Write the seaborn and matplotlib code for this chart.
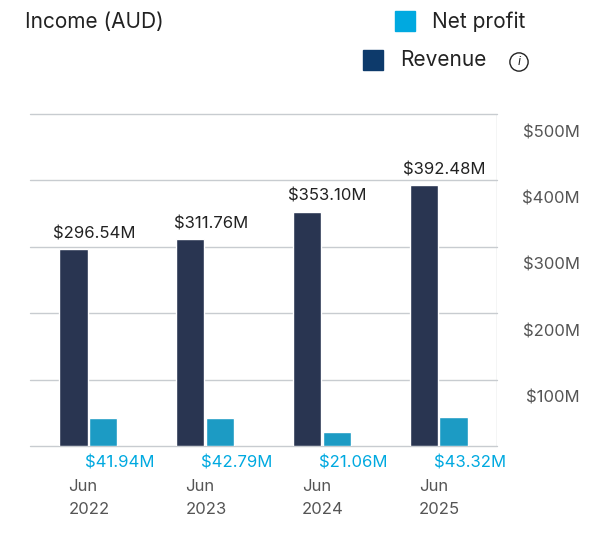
import matplotlib
matplotlib.use("Agg")
import matplotlib.pyplot as plt
import seaborn as sns
import pandas as pd
from matplotlib.patches import Rectangle

years = ["2022", "2023", "2024", "2025"]
revenue = [296.54, 311.76, 353.10, 392.48]
net_profit = [41.94, 42.79, 21.06, 43.32]
yticks = [100, 200, 300, 400, 500]

sns.set_theme(style="white")
plt.rcParams['font.family'] = ['Inter', 'DejaVu Sans']

df = pd.DataFrame({
    "year": years * 2,
    "value": revenue + net_profit,
    "series": ["Revenue"] * 4 + ["Net profit"] * 4,
})

fig = plt.figure(figsize=(5.94, 5.33), dpi=100)
ax = fig.add_axes([30/594, 1-446/533, 467/594, 332/533])
sns.barplot(data=df, x="year", y="value", hue="series",
            palette={"Revenue": "#233357", "Net profit": "#00A9E0"},
            width=0.51, gap=0.05, legend=False, ax=ax)
ax.set_xlim(-0.5, 3.5)
ax.set_ylim(0, 500)
for s in ax.spines.values():
    s.set_visible(False)
ax.set_xticks([]); ax.set_yticks([])
ax.set_xlabel(""); ax.set_ylabel("")
for t in [0] + yticks:
    ax.axhline(t, color="#c8ccd0", lw=1, zorder=0, clip_on=False)
ax.axvline(3.5, color="#c8ccd0", lw=1, ymin=0, ymax=1)

grey = "#555555"
for i, y in enumerate(years):
    ax.text(i + 0.05, revenue[i] + 12, f"${revenue[i]:.2f}M", ha="center",
            va="bottom", fontsize=12, color="#222222")
    ax.text(i + 0.27, -15, f"${net_profit[i]:.2f}M", ha="center", va="top",
            fontsize=12, color="#00A9E0")
    ax.text(i - 0.17, -50, "Jun", ha="left", va="top", fontsize=12, color=grey)
    ax.text(i - 0.17, -84, y, ha="left", va="top", fontsize=12, color=grey)
for t in yticks:
    ax.text(1 + 83/467, t - 28, f"${t}M", transform=ax.get_yaxis_transform(),
            ha="right", va="center", fontsize=12, color=grey)

fig.text(25/594, 1-22/533, "Income (AUD)", fontsize=15, color="#222222", va="center")
fig.patches.append(Rectangle((395/594, 1-31/533), 20/594, 20/533,
                             transform=fig.transFigure, color="#00A9E0"))
fig.text(432/594, 1-22/533, "Net profit", fontsize=15, color="#222222", va="center")
fig.patches.append(Rectangle((363/594, 1-70/533), 20/594, 20/533,
                             transform=fig.transFigure, color="#0D3A6B"))
fig.text(400/594, 1-60/533, "Revenue", fontsize=15, color="#222222", va="center")
fig.text(519/594, 1-62/533, "i", fontsize=9, color="#222222", va="center", ha="center",
         style="italic",
         bbox=dict(boxstyle="circle,pad=0.25", fc="white", ec="#222222", lw=1))

fig.savefig("out.png", dpi=100)
